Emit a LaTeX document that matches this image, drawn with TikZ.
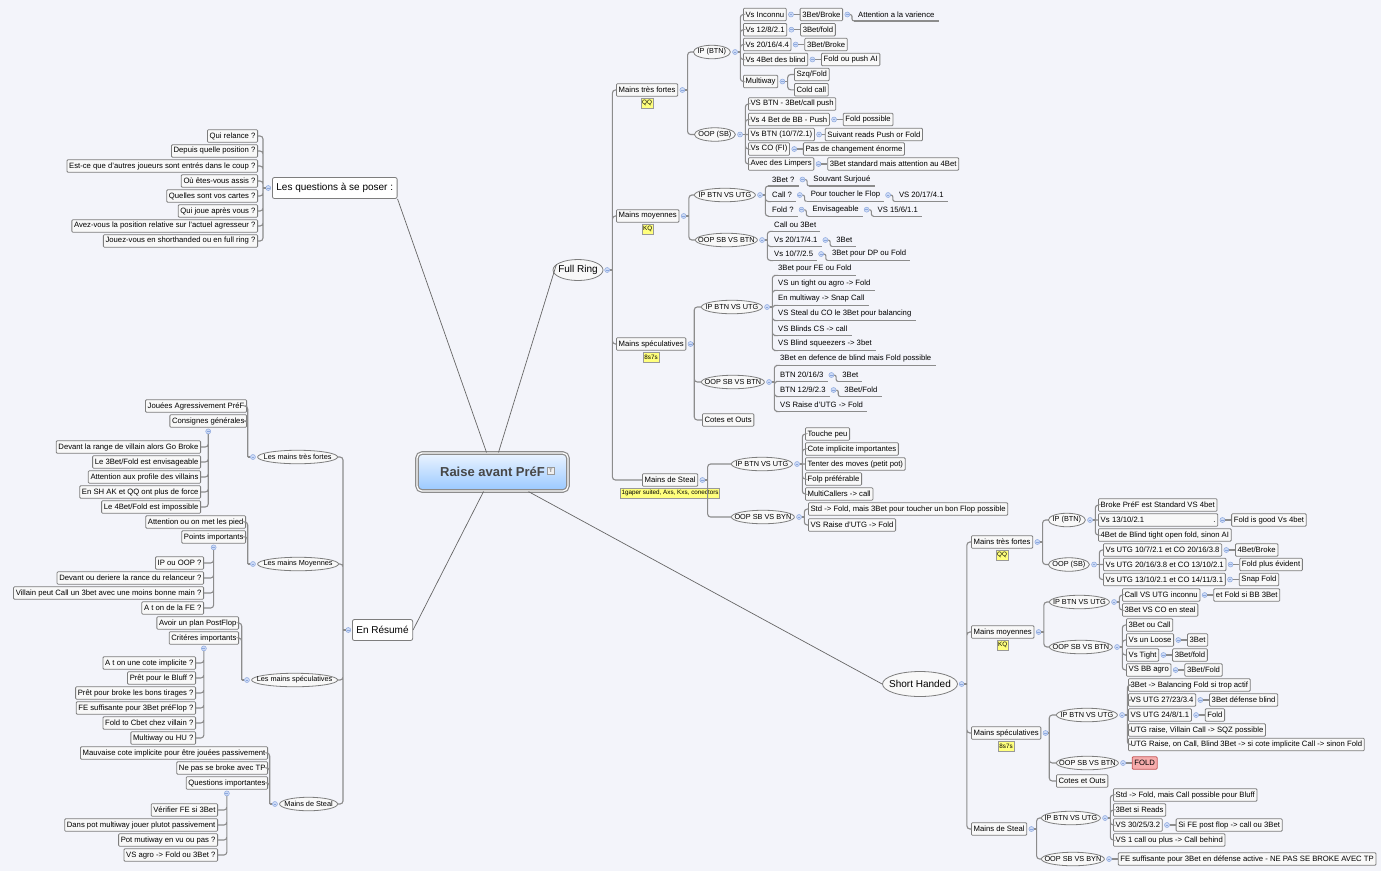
\documentclass[tikz,border=0pt]{standalone}
\usepackage{fontspec}
\setmainfont{Liberation Sans}
\usetikzlibrary{positioning,shapes.geometric}

\definecolor{bgc}{RGB}{243,244,250}
\definecolor{boxline}{RGB}{125,125,125}
\definecolor{boxfill}{RGB}{248,248,248}
\definecolor{connc}{RGB}{140,140,140}
\definecolor{knobfill}{RGB}{206,219,246}
\definecolor{knobline}{RGB}{140,168,222}
\definecolor{noteyel}{RGB}{255,255,125}
\definecolor{rootA}{RGB}{236,244,255}
\definecolor{rootB}{RGB}{152,200,255}
\definecolor{foldfill}{RGB}{246,172,172}
\definecolor{foldline}{RGB}{196,86,86}

\newcommand{\fsmall}{\fontsize{7.7}{9}\selectfont}
\newcommand{\fel}{\fontsize{7.3}{9}\selectfont}
\newcommand{\fmid}{\fontsize{10}{12}\selectfont}
\newcommand{\fnote}{\fontsize{6.3}{7}\selectfont}

\begin{document}
\begin{tikzpicture}[x=1pt,y=-1pt,
  bx/.style={draw=boxline, fill=boxfill, line width=0.8pt, rounded corners=1pt, inner xsep=2.2pt, inner ysep=0pt, minimum height=12.5pt, font=\fsmall},
  topic/.style={bx, fill=white, font=\fmid, inner xsep=4pt, minimum height=21pt, rounded corners=2pt},
  el/.style={ellipse, draw=boxline, fill=boxfill, line width=0.8pt, inner xsep=-30pt, inner ysep=-20pt, minimum height=13.5pt, font=\fel},
  ul/.style={inner xsep=4pt, inner ysep=0pt, minimum height=12.5pt, font=\fsmall, append after command={(\tikzlastnode.south west) edge[conn] (\tikzlastnode.south east)}},
  note/.style={draw=black!40, fill=noteyel, inner xsep=1pt, inner ysep=0pt, minimum height=10pt, font=\fnote},
  knob/.style={circle, draw=knobline, fill=knobfill, line width=0.5pt, minimum size=5pt, inner sep=0pt, path picture={\draw[knobline, line width=0.5pt] ([xshift=-1.4pt]path picture bounding box.center) -- ([xshift=1.4pt]path picture bounding box.center);}},
  conn/.style={draw=connc, line width=1.1pt, rounded corners=3pt},
  branch/.style={draw=black!60, line width=0.7pt}]

  \path[use as bounding box, fill=bgc] (0,0) rectangle (1381,871);

  % centre
  \node[draw=black!45, line width=1.2pt, double=white, double distance=1.2pt, rounded corners=5pt, top color=rootA, bottom color=rootB, minimum width=151, minimum height=38, font=\fontsize{13}{15}\selectfont\bfseries, text=black!72] (root) at (492.5,472) {Raise avant PréF\hspace{12pt}};
  \node[draw=black!40, fill=black!6, inner sep=0pt, minimum size=7pt, font=\fontsize{5}{5}\selectfont\bfseries, text=black!55] (rootT) at (551,471) {T};

  \node[topic, anchor=west] (lq) at (272,188) {Les questions à se poser :};
  \node[topic, anchor=west] (er) at (352,630) {En Résumé};
  \node[el, font=\fmid, minimum width=50, minimum height=21] (fr) at (578,270) {Full Ring};
  \node[el, font=\fmid, minimum width=75, minimum height=25] (sh) at (920,684) {Short Handed};

  \draw[branch] ([xshift=-6pt]root.north) -- (lq.south east);
  \draw[branch] ([xshift=6pt]root.north) -- (fr.165);
  \draw[branch] ([xshift=36pt]root.south) -- (sh.west);
  \draw[branch] ([xshift=-9pt]root.south) -- (er.east);

  %%%%%%%%%%%%%%%% Full Ring
  \node[knob, right=1pt of fr] (frk) {};

  % Mains tres fortes
  \node[bx, anchor=west] (frA) at (616,90) {Mains très fortes};
  \node[note, below=1pt of frA] (frAn) {QQ};
  \node[knob, right=1.5pt of frA] (frAk) {};
  \node[el, anchor=west, minimum width=37] (frA1) at (693,52) {IP (BTN)};
  \node[knob, right=1.5pt of frA1] (frA1k) {};
  \node[bx, anchor=west] (frA1a) at (743,14.5) {Vs Inconnu};
  \node[knob, right=1.5pt of frA1a] (frA1ak) {};
  \node[bx, right=6pt of frA1ak] (frA1a1) {3Bet/Broke};
  \node[knob, right=1.5pt of frA1a1] (frA1a1k) {};
  \node[ul, right=4pt of frA1a1k] (frA1a2) {Attention a la varience};
  \node[bx, anchor=west] (frA1b) at (743,29.7) {Vs 12/8/2.1};
  \node[knob, right=1.5pt of frA1b] (frA1bk) {};
  \node[bx, right=6pt of frA1bk] (frA1b1) {3Bet/fold};
  \node[bx, anchor=west] (frA1c) at (743,44.5) {Vs 20/16/4.4};
  \node[knob, right=1.5pt of frA1c] (frA1ck) {};
  \node[bx, right=6pt of frA1ck] (frA1c1) {3Bet/Broke};
  \node[bx, anchor=west] (frA1d) at (743,59.5) {Vs 4Bet des blind};
  \node[knob, right=1.5pt of frA1d] (frA1dk) {};
  \node[bx, right=6pt of frA1dk] (frA1d1) {Fold ou push AI};
  \node[bx, anchor=west] (frA1e) at (743,81.5) {Multiway};
  \node[knob, right=1.5pt of frA1e] (frA1ek) {};
  \node[bx, anchor=west] (frA1e1) at (794,74.5) {Szq/Fold};
  \node[bx, anchor=west] (frA1e2) at (794,89.8) {Cold call};

  \node[el, anchor=west, minimum width=41] (frA2) at (694,134.5) {OOP (SB)};
  \node[knob, right=1.5pt of frA2] (frA2k) {};
  \node[bx, anchor=west] (frA2a) at (748,104) {VS BTN - 3Bet/call push};
  \node[bx, anchor=west] (frA2b) at (748,119.5) {Vs 4 Bet de BB - Push};
  \node[knob, right=1.5pt of frA2b] (frA2bk) {};
  \node[bx, right=6pt of frA2bk] (frA2b1) {Fold possible};
  \node[bx, anchor=west] (frA2c) at (748,134.5) {Vs BTN (10/7/2.1)};
  \node[knob, right=1.5pt of frA2c] (frA2ck) {};
  \node[bx, right=3pt of frA2ck] (frA2c1) {Suivant reads Push or Fold};
  \node[bx, anchor=west] (frA2d) at (748,149) {Vs CO (FI)};
  \node[knob, right=1.5pt of frA2d] (frA2dk) {};
  \node[bx, right=6pt of frA2dk] (frA2d1) {Pas de changement énorme};
  \node[bx, anchor=west] (frA2e) at (748,164) {Avec des Limpers};
  \node[knob, right=1.5pt of frA2e] (frA2ek) {};
  \node[bx, right=6pt of frA2ek] (frA2e1) {3Bet standard mais attention au 4Bet};

  % Mains moyennes
  \node[bx, anchor=west] (frB) at (616,216) {Mains moyennes};
  \node[note, below=1pt of frB] (frBn) {KQ};
  \node[knob, right=1.5pt of frB] (frBk) {};
  \node[el, anchor=west, minimum width=61] (frB1) at (694,195) {IP BTN VS UTG};
  \node[knob, right=1.5pt of frB1] (frB1k) {};
  \node[ul, anchor=west] (frB1a) at (768,179.5) {3Bet ?};
  \node[knob, right=1pt of frB1a] (frB1ak) {};
  \node[ul, right=4pt of frB1ak] (frB1a1) {Souvant Surjoué};
  \node[ul, anchor=west] (frB1b) at (768,195) {Call ?};
  \node[knob, right=1pt of frB1b] (frB1bk) {};
  \node[ul, right=4pt of frB1bk] (frB1b1) {Pour toucher le Flop};
  \node[knob, right=1pt of frB1b1] (frB1b1k) {};
  \node[ul, right=4pt of frB1b1k] (frB1b2) {VS 20/17/4.1};
  \node[ul, anchor=west] (frB1c) at (768,209.7) {Fold ?};
  \node[knob, right=1pt of frB1c] (frB1ck) {};
  \node[ul, right=4pt of frB1ck] (frB1c1) {Envisageable};
  \node[knob, right=1pt of frB1c1] (frB1c1k) {};
  \node[ul, right=4pt of frB1c1k] (frB1c2) {VS 15/6/1.1};

  \node[el, anchor=west, minimum width=62] (frB2) at (695,240) {OOP SB VS BTN};
  \node[knob, right=1.5pt of frB2] (frB2k) {};
  \node[ul, anchor=west] (frB2a) at (770,225) {Call ou 3Bet};
  \node[ul, anchor=west] (frB2b) at (770,240) {Vs 20/17/4.1};
  \node[knob, right=1pt of frB2b] (frB2bk) {};
  \node[ul, right=4pt of frB2bk] (frB2b1) {3Bet};
  \node[ul, anchor=west] (frB2c) at (770,254) {Vs 10/7/2.5};
  \node[knob, right=1pt of frB2c] (frB2ck) {};
  \node[ul, right=4pt of frB2ck] (frB2c1) {3Bet pour DP ou Fold};

  % Mains speculatives
  \node[bx, anchor=west] (frC) at (616,344) {Mains spéculatives};
  \node[note, below=1pt of frC] (frCn) {8s7s};
  \node[knob, right=1.5pt of frC] (frCk) {};
  \node[el, anchor=west, minimum width=61] (frC1) at (701,307) {IP BTN VS UTG};
  \node[knob, right=1.5pt of frC1] (frC1k) {};
  \node[ul, anchor=west] (frC1a) at (774,269) {3Bet pour FE ou Fold};
  \node[ul, anchor=west] (frC1b) at (774,284) {VS un tight ou agro -> Fold};
  \node[ul, anchor=west] (frC1c) at (774,299) {En multiway -> Snap Call};
  \node[ul, anchor=west] (frC1d) at (774,314) {VS Steal du CO le 3Bet pour balancing};
  \node[ul, anchor=west] (frC1e) at (774,329) {VS Blinds CS -> call};
  \node[ul, anchor=west] (frC1f) at (774,344) {VS Blind squeezers -> 3bet};

  \node[el, anchor=west, minimum width=63] (frC2) at (701,382) {OOP SB VS BTN};
  \node[knob, right=1.5pt of frC2] (frC2k) {};
  \node[ul, anchor=west] (frC2a) at (776,359) {3Bet en defence de blind mais Fold possible};
  \node[ul, anchor=west] (frC2b) at (776,375) {BTN 20/16/3};
  \node[knob, right=1pt of frC2b] (frC2bk) {};
  \node[ul, right=4pt of frC2bk] (frC2b1) {3Bet};
  \node[ul, anchor=west] (frC2c) at (776,390) {BTN 12/9/2.3};
  \node[knob, right=1pt of frC2c] (frC2ck) {};
  \node[ul, right=4pt of frC2ck] (frC2c1) {3Bet/Fold};
  \node[ul, anchor=west] (frC2d) at (776,405) {VS Raise d'UTG -> Fold};
  \node[bx, anchor=west] (frC3) at (702,420) {Cotes et Outs};

  % Mains de Steal
  \node[bx, anchor=west] (frD) at (642,480) {Mains de Steal};
  \node[note, below=1pt of frD] (frDn) {1gaper suited, Axs, Kxs, conectors};
  \node[knob, right=1.5pt of frD] (frDk) {};
  \node[el, anchor=west, minimum width=61] (frD1) at (731,464) {IP BTN VS UTG};
  \node[knob, right=1.5pt of frD1] (frD1k) {};
  \node[bx, anchor=west] (frD1a) at (805,434) {Touche peu};
  \node[bx, anchor=west] (frD1b) at (805,449) {Cote implicite importantes};
  \node[bx, anchor=west] (frD1c) at (805,464) {Tenter des moves (petit pot)};
  \node[bx, anchor=west] (frD1d) at (805,479) {Folp préférable};
  \node[bx, anchor=west] (frD1e) at (805,494) {MultiCallers -> call};
  \node[el, anchor=west, minimum width=63] (frD2) at (731,517) {OOP SB VS BYN};
  \node[knob, right=1.5pt of frD2] (frD2k) {};
  \node[bx, anchor=west] (frD2a) at (808,509) {Std -> Fold, mais 3Bet pour toucher un bon Flop possible};
  \node[bx, anchor=west] (frD2b) at (808,525) {VS Raise d'UTG -> Fold};

  % Full Ring links
  \draw[conn] (frk.east) -- ++(2.5,0) coordinate (frt);
  \draw[conn] (frt) |- (frA.west) (frt) |- (frB.west) (frt) |- (frC.west) (frt) |- (frD.west);
  \draw[conn] (frAk.east) -- ++(2.5,0) coordinate (frAt);
  \draw[conn] (frAt) |- (frA1.west) (frAt) |- (frA2.west);
  \draw[conn] (frA1k.east) -- ++(2.5,0) coordinate (frA1t);
  \draw[conn] (frA1t) |- (frA1a.west) (frA1t) |- (frA1b.west) (frA1t) |- (frA1c.west) (frA1t) |- (frA1d.west) (frA1t) |- (frA1e.west);
  \draw[conn] (frA1ak) -- (frA1a1) (frA1bk) -- (frA1b1) (frA1ck) -- (frA1c1) (frA1dk) -- (frA1d1);
  \draw[conn, rounded corners=2pt] (frA1a1k.east) -- ++(2,0) |- (frA1a2.south west);
  \draw[conn] (frA1ek.east) -- ++(2.5,0) coordinate (frA1et);
  \draw[conn] (frA1et) |- (frA1e1.west) (frA1et) |- (frA1e2.west);
  \draw[conn] (frA2k.east) -- ++(2.5,0) coordinate (frA2t);
  \draw[conn] (frA2t) |- (frA2a.west) (frA2t) |- (frA2b.west) (frA2t) -- (frA2c.west) (frA2t) |- (frA2d.west) (frA2t) |- (frA2e.west);
  \draw[conn] (frA2bk) -- (frA2b1) (frA2ck) -- (frA2c1) (frA2dk) -- (frA2d1) (frA2ek) -- (frA2e1);

  \draw[conn] (frBk.east) -- ++(2.5,0) coordinate (frBt);
  \draw[conn] (frBt) |- (frB1.west) (frBt) |- (frB2.west);
  \draw[conn] (frB1k.east) -- ++(2.5,0) coordinate (frB1t);
  \draw[conn] (frB1t) |- (frB1a.south west) (frB1t) |- (frB1b.south west) (frB1t) |- (frB1c.south west);
  \draw[conn, rounded corners=2pt] (frB1ak.east) -- ++(2,0) |- (frB1a1.south west) (frB1bk.east) -- ++(2,0) |- (frB1b1.south west) (frB1b1k.east) -- ++(2,0) |- (frB1b2.south west) (frB1ck.east) -- ++(2,0) |- (frB1c1.south west) (frB1c1k.east) -- ++(2,0) |- (frB1c2.south west);
  \draw[conn] (frB2k.east) -- ++(2.5,0) coordinate (frB2t);
  \draw[conn] (frB2t) |- (frB2a.south west) (frB2t) |- (frB2b.south west) (frB2t) |- (frB2c.south west);
  \draw[conn, rounded corners=2pt] (frB2bk.east) -- ++(2,0) |- (frB2b1.south west) (frB2ck.east) -- ++(2,0) |- (frB2c1.south west);

  \draw[conn] (frCk.east) -- ++(1,0) coordinate (frCt);
  \draw[conn] (frCt) |- (frC1.west) (frCt) |- (frC2.west) (frCt) |- (frC3.west);
  \draw[conn] (frC1k.east) -- ++(2.5,0) coordinate (frC1t);
  \draw[conn] (frC1t) |- (frC1a.south west) (frC1t) |- (frC1b.south west) (frC1t) |- (frC1c.south west) (frC1t) |- (frC1d.south west) (frC1t) |- (frC1e.south west) (frC1t) |- (frC1f.south west);
  \draw[conn] (frC2k.east) -- ++(2.5,0) coordinate (frC2t);
  \draw[conn] (frC2t) |- (frC2a.south west) (frC2t) |- (frC2b.south west) (frC2t) |- (frC2c.south west) (frC2t) |- (frC2d.south west);
  \draw[conn, rounded corners=2pt] (frC2bk.east) -- ++(2,0) |- (frC2b1.south west) (frC2ck.east) -- ++(2,0) |- (frC2c1.south west);

  \draw[conn] (frDk.east) -- ++(2.5,0) coordinate (frDt);
  \draw[conn] (frDt) |- (frD1.west) (frDt) |- (frD2.west);
  \draw[conn] (frD1k.east) -- ++(2.5,0) coordinate (frD1t);
  \draw[conn] (frD1t) |- (frD1a.west) (frD1t) |- (frD1b.west) (frD1t) -- (frD1c.west) (frD1t) |- (frD1d.west) (frD1t) |- (frD1e.west);
  \draw[conn] (frD2k.east) -- ++(2.5,0) coordinate (frD2t);
  \draw[conn] (frD2t) |- (frD2a.west) (frD2t) |- (frD2b.west);

  %%%%%%%%%%%%%%%% Short Handed
  \node[knob, right=1pt of sh] (shk) {};

  \node[bx, anchor=west] (shA) at (971,542) {Mains très fortes};
  \node[note, below=1pt of shA] (shAn) {QQ};
  \node[knob, right=1.5pt of shA] (shAk) {};
  \node[el, anchor=west, minimum width=37] (shA1) at (1048,520) {IP (BTN)};
  \node[knob, right=1.5pt of shA1] (shA1k) {};
  \node[bx, anchor=west] (shA1a) at (1098,505) {Broke PréF est Standard VS 4bet};
  \node[bx, anchor=west, text width=115pt] (shA1b) at (1098,520) {Vs 13/10/2.1\hfill.};
  \node[knob, right=1.5pt of shA1b] (shA1bk) {};
  \node[bx, right=6pt of shA1bk] (shA1b1) {Fold is good Vs 4bet};
  \node[bx, anchor=west] (shA1c) at (1098,535) {4Bet de Blind tight open fold, sinon AI};
  \node[el, anchor=west, minimum width=41] (shA2) at (1048,564.5) {OOP (SB)};
  \node[knob, right=1.5pt of shA2] (shA2k) {};
  \node[bx, anchor=west] (shA2a) at (1103,550) {Vs UTG 10/7/2.1 et CO 20/16/3.8};
  \node[knob, right=1.5pt of shA2a] (shA2ak) {};
  \node[bx, right=6pt of shA2ak] (shA2a1) {4Bet/Broke};
  \node[bx, anchor=west] (shA2b) at (1103,564.5) {Vs UTG 20/16/3.8 et CO 13/10/2.1};
  \node[knob, right=1.5pt of shA2b] (shA2bk) {};
  \node[bx, right=6pt of shA2bk] (shA2b1) {Fold plus évident};
  \node[bx, anchor=west] (shA2c) at (1103,579.5) {Vs UTG 13/10/2.1 et CO 14/11/3.1};
  \node[knob, right=1.5pt of shA2c] (shA2ck) {};
  \node[bx, right=6pt of shA2ck] (shA2c1) {Snap Fold};

  \node[bx, anchor=west] (shB) at (971,632) {Mains moyennes};
  \node[note, below=1pt of shB] (shBn) {KQ};
  \node[knob, right=1.5pt of shB] (shBk) {};
  \node[el, anchor=west, minimum width=60] (shB1) at (1049,602) {IP BTN VS UTG};
  \node[knob, right=1.5pt of shB1] (shB1k) {};
  \node[bx, anchor=west] (shB1a) at (1122,595) {Call VS UTG inconnu};
  \node[knob, right=1.5pt of shB1a] (shB1ak) {};
  \node[bx, right=6pt of shB1ak] (shB1a1) {et Fold si BB 3Bet};
  \node[bx, anchor=west] (shB1b) at (1122,610) {3Bet VS CO en steal};
  \node[el, anchor=west, minimum width=63] (shB2) at (1049,647) {OOP SB VS BTN};
  \node[knob, right=1.5pt of shB2] (shB2k) {};
  \node[bx, anchor=west] (shB2a) at (1126,625) {3Bet ou Call};
  \node[bx, anchor=west] (shB2b) at (1126,640) {Vs un Loose};
  \node[knob, right=1.5pt of shB2b] (shB2bk) {};
  \node[bx, right=6pt of shB2bk] (shB2b1) {3Bet};
  \node[bx, anchor=west] (shB2c) at (1126,655) {Vs Tight};
  \node[knob, right=1.5pt of shB2c] (shB2ck) {};
  \node[bx, right=6pt of shB2ck] (shB2c1) {3Bet/fold};
  \node[bx, anchor=west] (shB2d) at (1126,670) {VS BB agro};
  \node[knob, right=1.5pt of shB2d] (shB2dk) {};
  \node[bx, right=6pt of shB2dk] (shB2d1) {3Bet/Fold};

  \node[bx, anchor=west] (shC) at (971,733) {Mains spéculatives};
  \node[note, below=1pt of shC] (shCn) {8s7s};
  \node[knob, right=1.5pt of shC] (shCk) {};
  \node[el, anchor=west, minimum width=61] (shC1) at (1056,715) {IP BTN VS UTG};
  \node[knob, right=1.5pt of shC1] (shC1k) {};
  \node[bx, anchor=west] (shC1a) at (1128,685) {3Bet -> Balancing Fold si trop actif};
  \node[bx, anchor=west] (shC1b) at (1128,700) {VS UTG 27/23/3.4};
  \node[knob, right=1.5pt of shC1b] (shC1bk) {};
  \node[bx, right=6pt of shC1bk] (shC1b1) {3Bet défense blind};
  \node[bx, anchor=west] (shC1c) at (1128,715) {VS UTG 24/8/1.1};
  \node[knob, right=1.5pt of shC1c] (shC1ck) {};
  \node[bx, right=6pt of shC1ck] (shC1c1) {Fold};
  \node[bx, anchor=west] (shC1d) at (1128,730) {UTG raise, Villain Call -> SQZ possible};
  \node[bx, anchor=west] (shC1e) at (1128,744.5) {UTG Raise, on Call, Blind 3Bet -> si cote implicite Call -> sinon Fold};
  \node[el, anchor=west, minimum width=62] (shC2) at (1056,763) {OOP SB VS BTN};
  \node[knob, right=1.5pt of shC2] (shC2k) {};
  \node[bx, fill=foldfill, draw=foldline, right=6pt of shC2k] (shC2a) {FOLD};
  \node[bx, anchor=west] (shC3) at (1056,781) {Cotes et Outs};

  \node[bx, anchor=west] (shD) at (971,829) {Mains de Steal};
  \node[knob, right=1.5pt of shD] (shDk) {};
  \node[el, anchor=west, minimum width=59] (shD1) at (1041,818) {IP BTN VS UTG};
  \node[knob, right=1.5pt of shD1] (shD1k) {};
  \node[bx, anchor=west] (shD1a) at (1113,795) {Std -> Fold, mais Call possible pour Bluff};
  \node[bx, anchor=west] (shD1b) at (1113,810) {3Bet si Reads};
  \node[bx, anchor=west] (shD1c) at (1113,825) {VS 30/25/3.2};
  \node[knob, right=1.5pt of shD1c] (shD1ck) {};
  \node[bx, right=6pt of shD1ck] (shD1c1) {Si FE post flop -> call ou 3Bet};
  \node[bx, anchor=west] (shD1d) at (1113,840) {VS 1 call ou plus -> Call behind};
  \node[el, anchor=west, minimum width=63] (shD2) at (1041,859) {OOP SB VS BYN};
  \node[knob, right=1.5pt of shD2] (shD2k) {};
  \node[bx, right=6pt of shD2k] (shD2a) {FE suffisante pour 3Bet en défense active - NE PAS SE BROKE AVEC TP};

  % Short Handed links
  \draw[conn] (shk.east) -- ++(2.5,0) coordinate (sht);
  \draw[conn] (sht) |- (shA.west) (sht) |- (shB.west) (sht) |- (shC.west) (sht) |- (shD.west);
  \draw[conn] (shAk.east) -- ++(2.5,0) coordinate (shAt);
  \draw[conn] (shAt) |- (shA1.west) (shAt) |- (shA2.west);
  \draw[conn] (shA1k.east) -- ++(2.5,0) coordinate (shA1t);
  \draw[conn] (shA1t) |- (shA1a.west) (shA1t) -- (shA1b.west) (shA1t) |- (shA1c.west);
  \draw[conn] (shA1bk) -- (shA1b1);
  \draw[conn] (shA2k.east) -- ++(2.5,0) coordinate (shA2t);
  \draw[conn] (shA2t) |- (shA2a.west) (shA2t) -- (shA2b.west) (shA2t) |- (shA2c.west);
  \draw[conn] (shA2ak) -- (shA2a1) (shA2bk) -- (shA2b1) (shA2ck) -- (shA2c1);

  \draw[conn] (shBk.east) -- ++(2.5,0) coordinate (shBt);
  \draw[conn] (shBt) |- (shB1.west) (shBt) |- (shB2.west);
  \draw[conn] (shB1k.east) -- ++(2.5,0) coordinate (shB1t);
  \draw[conn] (shB1t) |- (shB1a.west) (shB1t) |- (shB1b.west);
  \draw[conn] (shB1ak) -- (shB1a1);
  \draw[conn] (shB2k.east) -- ++(2.5,0) coordinate (shB2t);
  \draw[conn] (shB2t) |- (shB2a.west) (shB2t) |- (shB2b.west) (shB2t) |- (shB2c.west) (shB2t) |- (shB2d.west);
  \draw[conn] (shB2bk) -- (shB2b1) (shB2ck) -- (shB2c1) (shB2dk) -- (shB2d1);

  \draw[conn] (shCk.east) -- ++(1,0) coordinate (shCt);
  \draw[conn] (shCt) |- (shC1.west) (shCt) |- (shC2.west) (shCt) |- (shC3.west);
  \draw[conn] (shC1k.east) -- ++(2.5,0) coordinate (shC1t);
  \draw[conn] (shC1t) |- (shC1a.west) (shC1t) |- (shC1b.west) (shC1t) -- (shC1c.west) (shC1t) |- (shC1d.west) (shC1t) |- (shC1e.west);
  \draw[conn] (shC1bk) -- (shC1b1) (shC1ck) -- (shC1c1) (shC2k) -- (shC2a);

  \draw[conn] (shDk.east) -- ++(2.5,0) coordinate (shDt);
  \draw[conn] (shDt) |- (shD1.west) (shDt) |- (shD2.west);
  \draw[conn] (shD1k.east) -- ++(2.5,0) coordinate (shD1t);
  \draw[conn] (shD1t) |- (shD1a.west) (shD1t) |- (shD1b.west) (shD1t) |- (shD1c.west) (shD1t) |- (shD1d.west);
  \draw[conn] (shD1ck) -- (shD1c1) (shD2k) -- (shD2a);

  %%%%%%%%%%%%%%%% Les questions a se poser
  \node[knob, left=1pt of lq] (lqk) {};
  \node[bx, anchor=east] (lq1) at (258,136) {Qui relance ?};
  \node[bx, anchor=east] (lq2) at (258,151) {Depuis quelle position ?};
  \node[bx, anchor=east] (lq3) at (258,166) {Est-ce que d'autres joueurs sont entrés dans le coup ?};
  \node[bx, anchor=east] (lq4) at (258,181) {Où êtes-vous assis ?};
  \node[bx, anchor=east] (lq5) at (258,196) {Quelles sont vos cartes ?};
  \node[bx, anchor=east] (lq6) at (258,211) {Qui joue après vous ?};
  \node[bx, anchor=east] (lq7) at (258,226) {Avez-vous la position relative sur l'actuel agresseur ?};
  \node[bx, anchor=east] (lq8) at (258,241) {Jouez-vous en shorthanded ou en full ring ?};
  \draw[conn] (lqk.west) -- ++(-2.5,0) coordinate (lqt);
  \draw[conn] (lqt) |- (lq1.east) (lqt) |- (lq2.east) (lqt) |- (lq3.east) (lqt) |- (lq4.east) (lqt) |- (lq5.east) (lqt) |- (lq6.east) (lqt) |- (lq7.east) (lqt) |- (lq8.east);

  %%%%%%%%%%%%%%%% En Resume
  \node[knob, left=1pt of er] (erk) {};

  \node[el, anchor=east, minimum width=80] (erA) at (338,457) {Les mains très fortes};
  \node[knob, left=1.5pt of erA] (erAk) {};
  \node[bx, anchor=east] (erA1) at (247,406) {Jouées Agressivement PréF};
  \node[bx, anchor=east] (erA2) at (247,421) {Consignes générales};
  \node[knob, below=1pt of erA2] (erA2k) {};
  \node[bx, anchor=east] (erA2a) at (201,447) {Devant la range de villain alors Go Broke};
  \node[bx, anchor=east] (erA2b) at (201,462) {Le 3Bet/Fold est envisageable};
  \node[bx, anchor=east] (erA2c) at (201,477) {Attention aux profile des villains};
  \node[bx, anchor=east] (erA2d) at (201,492) {En SH AK et QQ ont plus de force};
  \node[bx, anchor=east] (erA2e) at (201,507) {Le 4Bet/Fold est impossible};

  \node[el, anchor=east, minimum width=81] (erB) at (339,564) {Les mains Moyennes};
  \node[knob, left=1.5pt of erB] (erBk) {};
  \node[bx, anchor=east] (erB1) at (246,522) {Attention ou on met les pied};
  \node[bx, anchor=east] (erB2) at (246,537) {Points importants};
  \node[knob, below=1pt of erB2] (erB2k) {};
  \node[bx, anchor=east] (erB2a) at (204,563) {IP ou OOP ?};
  \node[bx, anchor=east] (erB2b) at (204,578) {Devant ou deriere la rance du relanceur ?};
  \node[bx, anchor=east] (erB2c) at (204,593) {Villain peut Call un 3bet avec une moins bonne main ?};
  \node[bx, anchor=east] (erB2d) at (204,608) {A t on de la FE ?};

  \node[el, anchor=east, minimum width=86] (erC) at (338,680) {Les mains spéculatives};
  \node[knob, left=1.5pt of erC] (erCk) {};
  \node[bx, anchor=east] (erC1) at (239,623) {Avoir un plan PostFlop};
  \node[bx, anchor=east] (erC2) at (239,638) {Critéres importants};
  \node[knob, below=1pt of erC2] (erC2k) {};
  \node[bx, anchor=east] (erC2a) at (196,663) {A t on une cote implicite ?};
  \node[bx, anchor=east] (erC2b) at (196,678) {Prêt pour le Bluff ?};
  \node[bx, anchor=east] (erC2c) at (196,693) {Prêt pour broke les bons tirages ?};
  \node[bx, anchor=east] (erC2d) at (196,708) {FE suffisante pour 3Bet préFlop ?};
  \node[bx, anchor=east] (erC2e) at (196,723) {Fold to Cbet chez villain ?};
  \node[bx, anchor=east] (erC2f) at (196,738) {Multiway ou HU ?};

  \node[el, anchor=east, minimum width=58] (erD) at (338,804) {Mains de Steal};
  \node[knob, left=1.5pt of erD] (erDk) {};
  \node[bx, anchor=east] (erD1) at (268,753) {Mauvaise cote implicite pour être jouées passivement};
  \node[bx, anchor=east] (erD2) at (268,768) {Ne pas se broke avec TP};
  \node[bx, anchor=east] (erD3) at (268,783) {Questions importantes};
  \node[knob, below=1pt of erD3] (erD3k) {};
  \node[bx, anchor=east] (erD3a) at (218,810) {Vérifier FE si 3Bet};
  \node[bx, anchor=east] (erD3b) at (218,825) {Dans pot multiway jouer plutot passivement};
  \node[bx, anchor=east] (erD3c) at (218,840) {Pot mutiway en vu ou pas ?};
  \node[bx, anchor=east] (erD3d) at (218,855) {VS agro -> Fold ou 3Bet ?};

  % En Resume links
  \draw[conn] (erk.west) -- ++(-2.5,0) coordinate (ert);
  \draw[conn] (ert) |- (erA.east) (ert) |- (erB.east) (ert) |- (erC.east) (ert) |- (erD.east);
  \draw[conn] (erAk.west) -- ++(-2.5,0) coordinate (erAt);
  \draw[conn] (erAt) |- (erA1.east) (erAt) |- (erA2.east);
  \draw[conn] (erA2k.south) |- (erA2a.east) (erA2k.south) |- (erA2b.east) (erA2k.south) |- (erA2c.east) (erA2k.south) |- (erA2d.east) (erA2k.south) |- (erA2e.east);
  \draw[conn] (erBk.west) -- ++(-2.5,0) coordinate (erBt);
  \draw[conn] (erBt) |- (erB1.east) (erBt) |- (erB2.east);
  \draw[conn] (erB2k.south) |- (erB2a.east) (erB2k.south) |- (erB2b.east) (erB2k.south) |- (erB2c.east) (erB2k.south) |- (erB2d.east);
  \draw[conn] (erCk.west) -- ++(-2.5,0) coordinate (erCt);
  \draw[conn] (erCt) |- (erC1.east) (erCt) |- (erC2.east);
  \draw[conn] (erC2k.south) |- (erC2a.east) (erC2k.south) |- (erC2b.east) (erC2k.south) |- (erC2c.east) (erC2k.south) |- (erC2d.east) (erC2k.south) |- (erC2e.east) (erC2k.south) |- (erC2f.east);
  \draw[conn] (erDk.west) -- ++(-2.5,0) coordinate (erDt);
  \draw[conn] (erDt) |- (erD1.east) (erDt) |- (erD2.east) (erDt) |- (erD3.east);
  \draw[conn] (erD3k.south) |- (erD3a.east) (erD3k.south) |- (erD3b.east) (erD3k.south) |- (erD3c.east) (erD3k.south) |- (erD3d.east);
\end{tikzpicture}
\end{document}
